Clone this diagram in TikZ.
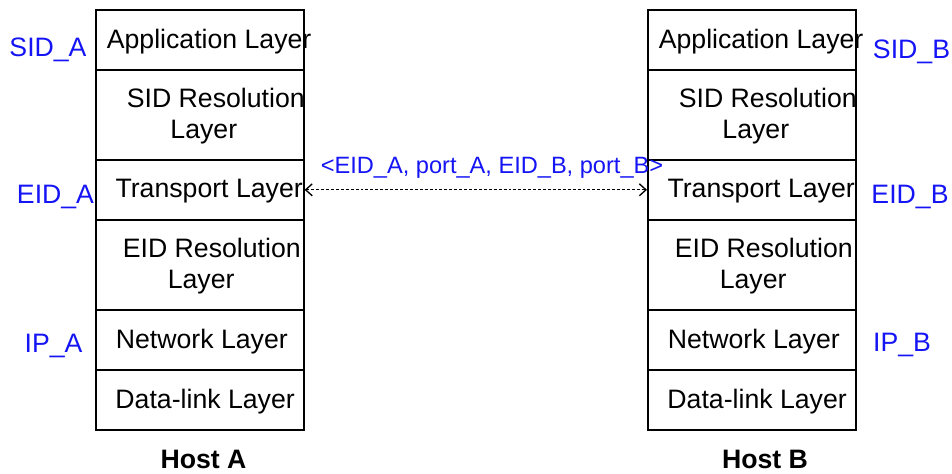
\documentclass[tikz,border=0pt]{standalone}
\usepackage{fontspec}
\setmainfont{Liberation Sans}
\usetikzlibrary{arrows.meta}
\definecolor{lblue}{RGB}{20,20,245}
\begin{document}
\begin{tikzpicture}[x=0.75pt,y=-0.75pt,
  every node/.style={font=\fontsize{20pt}{23.3pt}\selectfont},
  layer/.style={draw, line width=1.2pt, minimum width=156pt, inner sep=0pt, anchor=north west},
  short/.style={layer, minimum height=45pt},
  tall/.style={layer, minimum height=67.5pt},
  txt/.style={inner sep=0pt, align=center, text=black},
  idlbl/.style={text=lblue, anchor=base, inner sep=0pt},
  host/.style={anchor=base, inner sep=0pt, font=\fontsize{20pt}{23.3pt}\selectfont\bfseries},
  link/.style={dashed, dash pattern=on 2.2pt off 1.5pt, line width=0.8pt, {Straight Barb[length=5pt,width=9pt,line width=1pt]}-{Straight Barb[length=5pt,width=9pt,line width=1pt]}}
]
\useasboundingbox (0,0) rectangle (952,474);

% Host A
\node[short] (aA) at (95,9) {};
\node[tall]  (aS) at (95,69) {};
\node[short] (aT) at (95,159) {};
\node[tall]  (aE) at (95,219) {};
\node[short] (aN) at (95,309) {};
\node[short] (aD) at (95,369) {};
% Host B
\node[short] (bA) at (647,9) {};
\node[tall]  (bS) at (647,69) {};
\node[short] (bT) at (647,159) {};
\node[tall]  (bE) at (647,219) {};
\node[short] (bN) at (647,309) {};
\node[short] (bD) at (647,369) {};

% layer texts
\foreach \h in {a,b}{
  \node[txt, xshift=7pt, yshift=-1.5pt] (\h At) at (\h A.center) {Application Layer};
  \node[txt, xshift=3pt, yshift=-1pt] (\h St) at (\h S.center) {\hspace*{18pt}SID Resolution\\Layer};
  \node[txt, xshift=7pt, yshift=-1pt] (\h Tt) at (\h T.center) {Transport Layer};
  \node[txt, xshift=1pt, yshift=-1pt] (\h Et) at (\h E.center) {\hspace*{16pt}EID Resolution\\Layer};
  \node[txt, xshift=1.5pt, yshift=-1pt] (\h Nt) at (\h N.center) {Network Layer};
  \node[txt, xshift=4pt, yshift=-1.5pt] (\h Dt) at (\h D.center) {Data-link Layer};
}

% identifiers
\node[idlbl] (sida) at (48,57) {SID\_A};
\node[idlbl] (eida) at (55.5,203) {EID\_A};
\node[idlbl] (ipa) at (53.5,352) {IP\_A};
\node[idlbl] (sidb) at (911.5,59) {SID\_B};
\node[idlbl] (eidb) at (910,203) {EID\_B};
\node[idlbl] (ipb) at (902,351) {IP\_B};

% hosts
\node[host] (hA) at (203.5,468) {Host A};
\node[host] (hB) at (765,468) {Host B};

% connection
\draw[link] (aT.east) -- (bT.west);
\node[text=lblue, anchor=base, inner sep=0pt, font=\fontsize{17.7pt}{21pt}\selectfont] (tuple) at (492,173) {<EID\_A, port\_A, EID\_B, port\_B>};
\end{tikzpicture}
\end{document}
